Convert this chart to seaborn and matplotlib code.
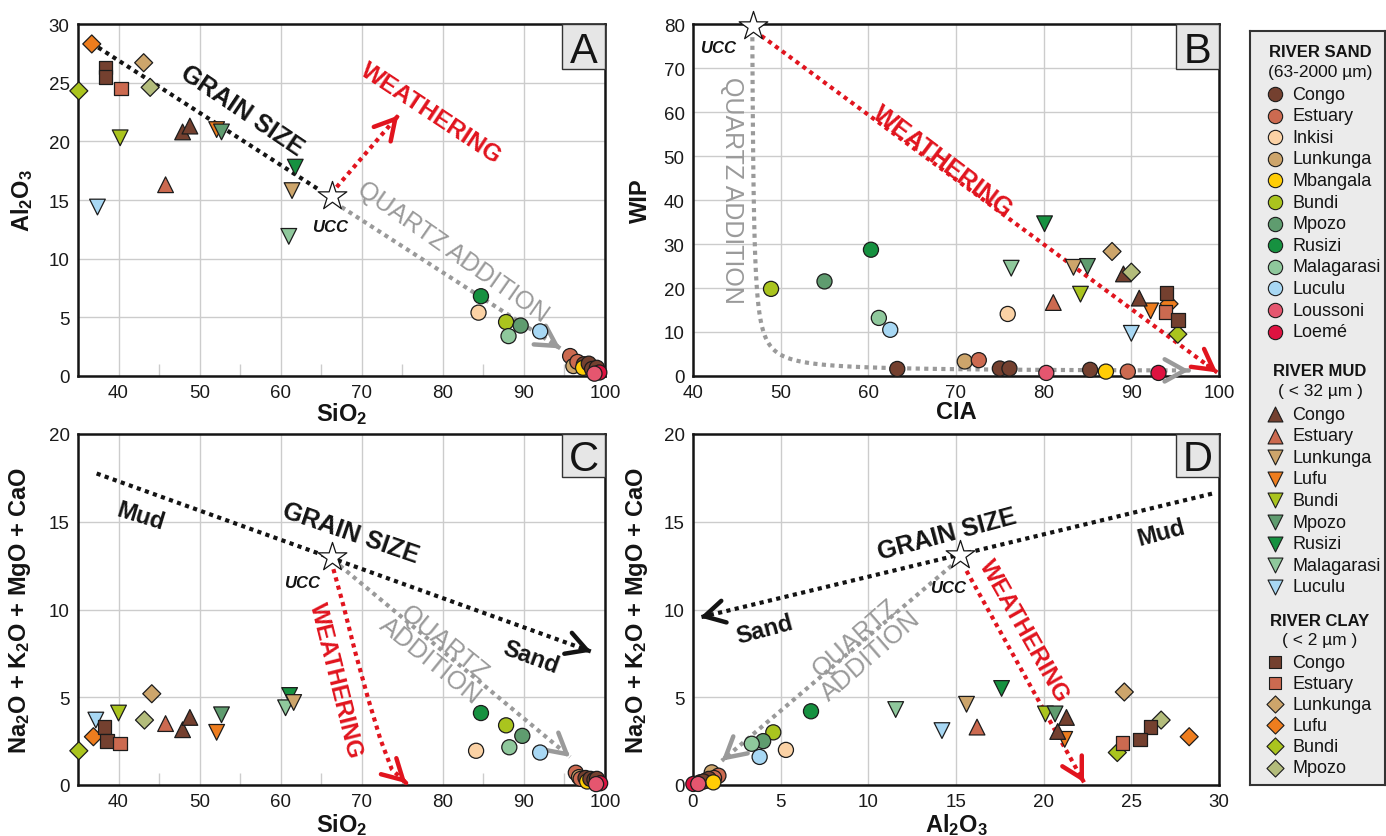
import numpy as np
import pandas as pd
import matplotlib.pyplot as plt
import seaborn as sns
from matplotlib.patches import Rectangle

sns.set_theme(style="white")
plt.rcParams["font.family"] = ["Liberation Sans", "DejaVu Sans"]
plt.rcParams["mathtext.fontset"] = "custom"
plt.rcParams["mathtext.rm"] = "Liberation Sans"
plt.rcParams["mathtext.bf"] = "Liberation Sans:bold"
plt.rcParams["mathtext.it"] = "Liberation Sans:italic"
plt.rcParams["mathtext.default"] = "bf"

RED = "#e1141e"
GRAY = "#9a9a9a"
BLACK = "#141414"

# ---- legend groups ----
sand_rivers = ["Congo", "Estuary", "Inkisi", "Lunkunga", "Mbangala", "Bundi", "Mpozo",
               "Rusizi", "Malagarasi", "Luculu", "Loussoni", "Loemé"]
mud_rivers = ["Congo", "Estuary", "Lunkunga", "Lufu", "Bundi", "Mpozo", "Rusizi",
              "Malagarasi", "Luculu"]
clay_rivers = ["Congo", "Estuary", "Lunkunga", "Lufu", "Bundi", "Mpozo"]

river_colors = {
    "Congo": "#74402f", "Estuary": "#cc6a50", "Inkisi": "#fbd2a5", "Lunkunga": "#cda56b",
    "Mbangala": "#ffcd05", "Bundi": "#aac41e", "Mpozo": "#5f9c6f", "Rusizi": "#169140",
    "Malagarasi": "#8fc89c", "Luculu": "#a8d8f4", "Loussoni": "#e5566f", "Loemé": "#de1240",
    "Lufu": "#ee7d1e",
}

# ---- panel A: SiO2 vs Al2O3 ----
a_sample = ["clay Lufu", "clay Lunkunga", "clay Congo", "clay Congo", "clay Estuary", "clay Bundi", "clay Mpozo",
            "mud Bundi", "mud Congo", "mud Congo", "mud Lufu", "mud Mpozo", "mud Estuary", "mud Rusizi",
            "mud Lunkunga", "mud Malagarasi", "mud Luculu",
            "sand Rusizi", "sand Inkisi", "sand Bundi", "sand Mpozo", "sand Malagarasi", "sand Luculu",
            "sand Estuary", "sand Lunkunga", "sand Estuary", "sand Congo", "sand Mbangala", "sand Congo",
            "sand Congo", "sand Congo", "sand Loemé", "sand Loussoni"]
a_sio2 = [36.7, 43.1, 38.4, 38.4, 40.3, 35.1, 43.9,
          40.2, 47.9, 48.8, 52.1, 52.7, 45.8, 61.8, 61.4, 61.0, 37.4,
          84.7, 84.4, 87.8, 89.6, 88.1, 92.0, 95.7, 96.1, 96.6, 97.4, 97.3, 98.0, 98.4, 99.0, 99.3, 98.7]
a_al2o3 = [28.3, 26.7, 26.3, 25.5, 24.5, 24.3, 24.6,
           20.3, 20.8, 21.3, 21.0, 20.8, 16.3, 17.8, 15.8, 11.9, 14.4,
           6.8, 5.4, 4.6, 4.3, 3.4, 3.8, 1.7, 0.85, 1.2, 1.0, 0.7, 1.05, 0.6, 0.7, 0.3, 0.2]

# ---- panel B: CIA vs WIP ----
b_sample = ["sand Bundi", "sand Mpozo", "sand Rusizi", "sand Malagarasi", "sand Luculu", "sand Congo",
            "sand Lunkunga", "sand Estuary", "sand Congo", "sand Congo", "sand Inkisi", "sand Loussoni",
            "sand Congo", "sand Mbangala", "sand Estuary", "sand Loemé",
            "mud Rusizi", "mud Malagarasi", "mud Estuary", "mud Lunkunga", "mud Mpozo", "mud Bundi",
            "mud Congo", "mud Congo", "mud Lufu", "mud Luculu",
            "clay Lunkunga", "clay Mpozo", "clay Lufu", "clay Congo", "clay Estuary", "clay Congo", "clay Bundi"]
b_cia = [48.9, 55.0, 60.3, 61.2, 62.5, 63.3, 71.0, 72.6, 75.0, 76.1, 75.9, 80.3, 85.3, 87.1, 89.6, 93.1,
         80.1, 76.3, 81.1, 83.4, 85.0, 84.2, 89.1, 90.9, 92.2, 90.0,
         87.8, 90.0, 94.3, 94.0, 93.9, 95.3, 95.3]
b_wip = [19.8, 21.5, 28.7, 13.2, 10.5, 1.6, 3.3, 3.6, 1.7, 1.7, 14.1, 0.7, 1.4, 1.0, 1.0, 0.7,
         34.6, 24.5, 16.7, 24.7, 24.9, 18.6, 23.2, 17.7, 14.8, 9.7,
         28.3, 23.6, 16.4, 18.9, 14.5, 12.7, 9.5]

# ---- panel C: SiO2 vs Na2O+K2O+MgO+CaO ----
c_sample = ["clay Bundi", "clay Lufu", "clay Congo", "clay Congo", "clay Estuary", "clay Lunkunga", "clay Mpozo",
            "mud Luculu", "mud Bundi", "mud Estuary", "mud Congo", "mud Congo", "mud Mpozo", "mud Lufu",
            "mud Rusizi", "mud Malagarasi", "mud Lunkunga",
            "sand Rusizi", "sand Bundi", "sand Mpozo", "sand Malagarasi", "sand Inkisi", "sand Luculu",
            "sand Estuary", "sand Lunkunga", "sand Estuary", "sand Congo", "sand Mbangala", "sand Congo",
            "sand Congo", "sand Congo", "sand Loemé", "sand Loussoni"]
c_sio2 = [35.1, 36.9, 38.3, 38.6, 40.2, 44.1, 43.2,
          37.2, 40.0, 45.8, 47.9, 48.8, 52.7, 52.1, 61.1, 60.6, 61.6,
          84.7, 87.8, 89.8, 88.2, 84.1, 92.0, 96.4, 96.8, 97.0, 97.6, 97.8, 98.2, 98.7, 99.0, 99.4, 98.9]
c_mob = [1.95, 2.75, 3.3, 2.5, 2.35, 5.2, 3.7,
         3.7, 4.1, 3.5, 3.15, 3.85, 4.0, 3.0, 5.1, 4.4, 4.7,
         4.1, 3.4, 2.8, 2.15, 1.95, 1.85, 0.7, 0.45, 0.35, 0.4, 0.2, 0.35, 0.3, 0.35, 0.1, 0.05]

# ---- panel D: Al2O3 vs Na2O+K2O+MgO+CaO ----
d_sample = ["sand Rusizi", "sand Bundi", "sand Mpozo", "sand Malagarasi", "sand Luculu", "sand Inkisi",
            "sand Lunkunga", "sand Estuary", "sand Estuary", "sand Congo", "sand Congo", "sand Congo",
            "sand Congo", "sand Mbangala", "sand Loemé", "sand Loussoni",
            "mud Malagarasi", "mud Luculu", "mud Lunkunga", "mud Estuary", "mud Rusizi", "mud Bundi",
            "mud Mpozo", "mud Congo", "mud Congo", "mud Lufu",
            "clay Lunkunga", "clay Mpozo", "clay Congo", "clay Congo", "clay Estuary", "clay Bundi", "clay Lufu"]
d_al2o3 = [6.73, 4.58, 4.0, 3.35, 3.8, 5.3, 1.07, 1.45, 1.2, 0.74, 0.4, 0.9, 0.6, 1.16, 0.02, 0.3,
           11.56, 14.2, 15.6, 16.2, 17.6, 20.1, 20.65, 21.3, 20.8, 21.2,
           24.6, 26.7, 26.1, 25.5, 24.5, 24.2, 28.3]
d_mob = [4.2, 3.0, 2.5, 2.35, 1.6, 2.0, 0.72, 0.53, 0.4, 0.25, 0.15, 0.35, 0.2, 0.15, 0.06, 0.06,
         4.3, 3.1, 4.6, 3.3, 5.5, 4.05, 4.05, 3.85, 3.05, 2.6,
         5.3, 3.7, 3.3, 2.6, 2.4, 1.85, 2.75]

# UCC reference (x, y) per panel
ucc_a = (66.3, 15.3)
ucc_b = (46.8, 79.5)
ucc_c = (66.3, 13.0)
ucc_d = (15.2, 13.1)

# ---- styles ----
palette, markers = {}, {}
for r in sand_rivers:
    palette["sand " + r] = river_colors[r]
    markers["sand " + r] = "o"
for r in mud_rivers:
    palette["mud " + r] = river_colors[r]
    markers["mud " + r] = "^" if r in ("Congo", "Estuary") else "v"
for r in clay_rivers:
    palette["clay " + r] = river_colors[r]
    markers["clay " + r] = "s" if r in ("Congo", "Estuary") else "D"
palette["clay Mpozo"] = "#b3bc7b"
msize = {"o": 118, "v": 128, "^": 128, "D": 84, "s": 94}


def plot_samples(ax, samples, xs, ys):
    df = pd.DataFrame({"sample": samples, "x": xs, "y": ys})
    df["marker"] = df["sample"].map(markers)
    for m in ["o", "v", "^", "D", "s"]:
        sub = df[df["marker"] == m]
        if sub.empty:
            continue
        sns.scatterplot(data=sub, x="x", y="y", hue="sample", palette=palette, marker=m,
                        s=msize[m], edgecolor="#1c1c1c", linewidth=0.9, legend=False,
                        ax=ax, clip_on=False, zorder=6)


def style_axes(ax, xlim, ylim, xt, yt, xminor=None):
    ax.set_xlim(xlim)
    ax.set_ylim(ylim)
    ax.set_xticks(xt)
    ax.set_yticks(yt)
    if xminor is not None:
        ax.set_xticks(xminor, minor=True)
    ax.grid(True, which="major", color="#cccccc", lw=1.0)
    ax.set_axisbelow(True)
    ax.tick_params(which="major", length=0, pad=6, labelsize=13.5, labelcolor="#1a1a1a")
    ax.tick_params(which="minor", direction="in", length=9, width=1, color="#cccccc", bottom=True)
    for s in ax.spines.values():
        s.set_linewidth(1.8)
        s.set_color(BLACK)


def tag(ax, letter, h):
    w = 43 / 527
    ax.add_patch(Rectangle((1 - w, 1 - h), w, h, transform=ax.transAxes, facecolor="#e6e6e6",
                           edgecolor="#333333", lw=1.0, zorder=7, clip_on=False))
    ax.text(1 - w / 2, 1 - h + 0.02, letter, transform=ax.transAxes, ha="center", va="baseline",
            fontsize=30, color=BLACK, zorder=8)


def ucc(ax, pt, tx, ty):
    ax.scatter([pt[0]], [pt[1]], marker="*", s=470, facecolor="white", edgecolor=BLACK,
               linewidth=0.9, zorder=9, clip_on=False)
    ax.text(tx, ty, "UCC", fontstyle="italic", fontweight="bold", fontsize=12, color=BLACK,
            ha="center", va="center", zorder=9)


def dotted(ax, xs, ys, color, head=True):
    ax.plot(xs, ys, color=color, lw=3.0, ls=(0, (1, 1.05)), dash_capstyle="butt", zorder=4,
            clip_on=False)
    if head:
        x0, y0, x1, y1 = xs[-2], ys[-2], xs[-1], ys[-1]
        ax.annotate("", xy=(x1, y1), xytext=(x1 - (x1 - x0) * 0.02, y1 - (y1 - y0) * 0.02),
                    arrowprops=dict(arrowstyle="->,head_length=0.72,head_width=0.4", color=color,
                                    lw=3.2, mutation_scale=20, shrinkA=0, shrinkB=0),
                    annotation_clip=False, zorder=4)


def label(ax, x, y, s, color, size, rot, weight="bold"):
    ax.text(x, y, s, color=color, fontsize=size, rotation=rot, rotation_mode="anchor",
            ha="center", va="center", fontweight=weight, zorder=5, linespacing=0.95)


W, H = 1386, 837
fig = plt.figure(figsize=(W / 100, H / 100), dpi=100)
axA = fig.add_axes([78 / W, 1 - 377 / H, 527 / W, 352 / H])
axB = fig.add_axes([693 / W, 1 - 377 / H, 526 / W, 352 / H])
axC = fig.add_axes([78 / W, 1 - 786 / H, 527 / W, 351 / H])
axD = fig.add_axes([693 / W, 1 - 786 / H, 526 / W, 351 / H])

# panel A
plot_samples(axA, a_sample, a_sio2, a_al2o3)
style_axes(axA, (35, 100), (0, 30), range(40, 101, 10), range(0, 31, 5), range(45, 100, 10))
dotted(axA, [37.5, 64.9], [28.0, 15.8], BLACK, head=False)
dotted(axA, [66.9, 74.5], [16.1, 22.2], RED)
dotted(axA, [67.5, 94.5], [14.4, 2.35], GRAY)
label(axA, 55.2, 22.7, "GRAIN SIZE", BLACK, 18, -34)
label(axA, 78.5, 22.4, "WEATHERING", RED, 17.5, -33.5)
label(axA, 81.2, 10.6, "QUARTZ ADDITION", GRAY, 18, -35, weight="normal")
ucc(axA, ucc_a, 66.1, 12.7)
tag(axA, "A", 45 / 352)
axA.set_xlabel("SiO$_2$", fontsize=17, fontweight="bold", color=BLACK)
axA.set_ylabel("Al$_2$O$_3$", fontsize=17, fontweight="bold", color=BLACK)
axA.xaxis.set_label_coords(0.5, -0.068)
axA.yaxis.set_label_coords(-0.082, 0.5)

# panel B
plot_samples(axB, b_sample, b_cia, b_wip)
style_axes(axB, (40, 100), (0, 80), range(40, 101, 10), range(0, 81, 10))
qy_off = np.geomspace(76.0, 0.26, 120)
qx = 46.6 + 13.0 / qy_off
qy = 1.0 + qy_off
dotted(axB, list(qx), list(qy), GRAY)
dotted(axB, [47.8, 99.8], [77.3, 0.8], RED)
label(axB, 68.5, 48.9, "WEATHERING", RED, 18, -37)
label(axB, 44.4, 42.5, "QUARTZ ADDITION", GRAY, 18, -90, weight="normal")
ucc(axB, ucc_b, 42.9, 74.7)
tag(axB, "B", 45 / 352)
axB.set_xlabel("CIA", fontsize=17, fontweight="bold", color=BLACK)
axB.set_ylabel("WIP", fontsize=17, fontweight="bold", color=BLACK)
axB.xaxis.set_label_coords(0.5, -0.068)
axB.yaxis.set_label_coords(-0.078, 0.5)

# panel C
plot_samples(axC, c_sample, c_sio2, c_mob)
style_axes(axC, (35, 100), (0, 20), range(40, 101, 10), range(0, 21, 5), range(45, 100, 10))
dotted(axC, [37.3, 98.3], [17.75, 7.6], BLACK)
dotted(axC, [67.3, 95.7], [12.5, 1.6], GRAY)
dotted(axC, [66.5, 67.75, 69.2, 70.8, 72.3, 73.7, 75.5], [12.3, 10.2, 7.56, 4.9, 2.6, 0.9, 0.1], RED)
label(axC, 42.7, 15.35, "Mud", BLACK, 17, -17)
label(axC, 68.6, 14.4, "GRAIN SIZE", BLACK, 18, -19)
label(axC, 90.9, 7.33, "Sand", BLACK, 17, -20)
label(axC, 79.3, 7.6, "QUARTZ\nADDITION", GRAY, 18.5, -39, weight="normal")
label(axC, 66.8, 6.0, "WEATHERING", RED, 17, -76)
ucc(axC, ucc_c, 62.6, 11.55)
tag(axC, "C", 43 / 351)
axC.set_xlabel("SiO$_2$", fontsize=17, fontweight="bold", color=BLACK)
axC.set_ylabel("Na$_2$O + K$_2$O + MgO + CaO", fontsize=17, fontweight="bold", color=BLACK)
axC.xaxis.set_label_coords(0.5, -0.075)
axC.yaxis.set_label_coords(-0.085, 0.5)

# panel D
plot_samples(axD, d_sample, d_al2o3, d_mob)
style_axes(axD, (0, 30), (0, 20), range(0, 31, 5), range(0, 21, 5))
dotted(axD, [29.6, 0.4], [16.6, 9.55], BLACK)
dotted(axD, [14.75, 1.64], [12.5, 1.38], GRAY)
dotted(axD, [15.6, 22.3], [12.2, 0.15], RED)
label(axD, 26.7, 14.4, "Mud", BLACK, 17, 15)
label(axD, 14.5, 14.3, "GRAIN SIZE", BLACK, 18, 15)
label(axD, 4.06, 8.9, "Sand", BLACK, 17, 15)
label(axD, 9.7, 7.9, "QUARTZ\nADDITION", GRAY, 18.5, 41, weight="normal")
label(axD, 18.9, 8.84, "WEATHERING", RED, 17, -60.5)
ucc(axD, ucc_d, 14.55, 11.25)
tag(axD, "D", 43 / 351)
axD.set_xlabel("Al$_2$O$_3$", fontsize=17, fontweight="bold", color=BLACK)
axD.set_ylabel("Na$_2$O + K$_2$O + MgO + CaO", fontsize=17, fontweight="bold", color=BLACK)
axD.xaxis.set_label_coords(0.5, -0.075)
axD.yaxis.set_label_coords(-0.082, 0.5)

# legend box (pixel coordinates of the figure)
top, bot, left, right = 32, 786, 1250, 1385
lax = fig.add_axes([left / W, 1 - bot / H, (right - left) / W, (bot - top) / H])
lax.set_xlim(left, right)
lax.set_ylim(bot, top)
lax.set_xticks([])
lax.set_yticks([])
lax.set_facecolor("#ebebeb")
for s in lax.spines.values():
    s.set_linewidth(1.5)
    s.set_color("#333333")

mx, tx, cx = 1275, 1292, 1320


def legend_block(title, sub, ty, rows_y0, step, group, rivers):
    lax.text(cx, ty, title, ha="center", va="center", fontsize=12, fontweight="bold", color=BLACK)
    lax.text(cx, ty + (rows_y0 - ty) * 0.47, sub, ha="center", va="center", fontsize=12.5, color=BLACK)
    for i, r in enumerate(rivers):
        key = group + " " + r
        y = rows_y0 + i * step
        m = markers[key]
        lax.scatter([mx], [y], marker=m, s=msize[m] * 0.9, color=palette[key], edgecolor="#1c1c1c",
                    linewidth=0.8, clip_on=False)
        lax.text(tx, y, r, ha="left", va="center", fontsize=13, color=BLACK)


legend_block("RIVER SAND", "(63-2000 µm)", 52, 95, 21.6, "sand", sand_rivers)
legend_block("RIVER MUD", "( < 32 µm )", 371, 415, 21.6, "mud", mud_rivers)
legend_block("RIVER CLAY", "( < 2 µm )", 621, 663, 21.1, "clay", clay_rivers)

fig.savefig("out.png", dpi=100)
